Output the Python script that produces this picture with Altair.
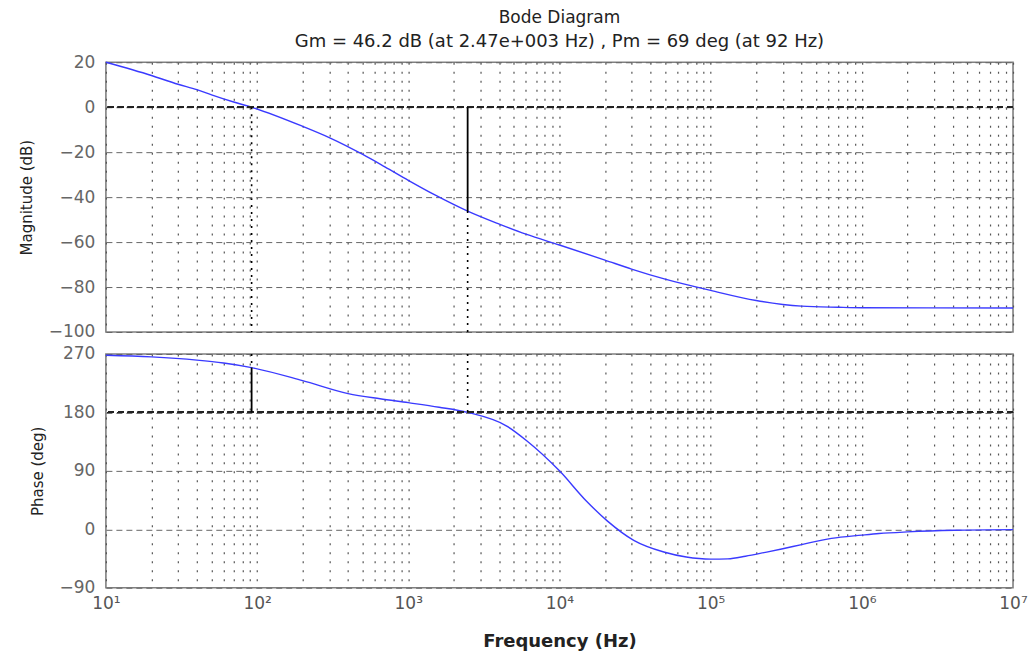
import altair as alt
import pandas as pd

# Open-loop magnitude response (Hz, dB)
mag_freq = [10, 20, 30, 40, 50, 70, 92, 200, 300, 500, 700, 1000, 1500, 2470,
            4000, 6000, 10000, 20000, 30000, 50000, 100000, 200000, 400000, 700000, 1e6, 1e7]
mag_db = [20, 14.1, 10.2, 7.8, 5.5, 2.3, 0, -8.5, -13.5, -21, -26.5, -32.5, -39, -46.2,
          -52, -56.5, -61.3, -68, -72, -76.5, -81.5, -86, -88.5, -89, -89.2, -89.3]

# Open-loop phase response (Hz, deg)
phase_freq = [10, 20, 40, 60, 92, 200, 400, 650, 1000, 1600, 2470, 4480, 6100, 10000,
              15000, 20700, 31000, 49000, 69000, 100000, 130000, 170000, 230000, 300000,
              400000, 630000, 1e6, 1.3e6, 2e6, 4.1e6, 1e7]
phase_deg = [268, 265.5, 260.5, 256, 249, 229, 209, 201, 195, 188, 180, 159, 136, 90,
             44, 13, -17, -35, -42.7, -46, -45.5, -41.5, -35.5, -30,
             -23.5, -14, -9, -6.5, -4, -1.5, -0.5]

# Stability margins
gm_freq, gm_db = 2470, -46.2
pm_freq, pm_phase = 92, 249

mag_ticks = [-100, -80, -60, -40, -20, 0, 20]
phase_ticks = [-90, 0, 90, 180, 270]
grid_freqs = [k * 10 ** d for d in range(1, 7) for k in range(1, 10)] + [10 ** 7]

FONT = "DejaVu Sans"
LINE = "#3a3aff"
W = 908

mag_df = pd.DataFrame({"freq": mag_freq, "val": mag_db})
phase_df = pd.DataFrame({"freq": phase_freq, "val": phase_deg})

x_scale = alt.Scale(type="log", domain=[10, 1e7], nice=False)

sup_expr = ("abs(datum.value - pow(10, round(log(datum.value)/LN10))) < 1e-6*datum.value"
            " ? '10' + ['⁰','¹','²','³','⁴','⁵','⁶','⁷'][round(log(datum.value)/LN10)] : ''")


def x_axis(show_labels):
    return alt.Axis(values=grid_freqs, labels=show_labels, labelExpr=sup_expr,
                    labelOverlap=False, labelFont=FONT, labelFontSize=17,
                    labelColor="#555", labelPadding=8, labelFlush=False,
                    ticks=False, domain=False, grid=True, gridDash=[2, 7],
                    gridColor="#555", gridWidth=1.2,
                    title="Frequency  (Hz)" if show_labels else None,
                    titleFont=FONT, titleFontSize=18, titleFontWeight="bold",
                    titleColor="#222", titlePadding=21)


def y_axis(title, ticks):
    return alt.Axis(values=ticks, title=title, titleFont=FONT, titleFontSize=15,
                    titleFontWeight="normal", titleColor="#222", titlePadding=14,
                    labelFont=FONT, labelFontSize=17, labelColor="#666",
                    labelPadding=11, ticks=False, domain=False, grid=True,
                    gridDash=[6, 4], gridColor="#666", gridWidth=1)


def rules(df, **kw):
    return alt.Chart(df).mark_rule(color="black", **kw).encode(
        x="freq:Q", y="val:Q", y2="val2:Q")


# Magnitude panel
mag_y = alt.Scale(domain=[-100, 20], nice=False)
mag_line = alt.Chart(mag_df).mark_line(color=LINE, strokeWidth=1.4, interpolate="monotone").encode(
    x=alt.X("freq:Q", scale=x_scale, axis=x_axis(False)),
    y=alt.Y("val:Q", scale=mag_y, axis=y_axis("Magnitude (dB)", mag_ticks)),
)
mag_zero = alt.Chart(mag_df).mark_rule(color="#222", strokeDash=[6, 4], strokeWidth=1.2).encode(
    y=alt.datum(0))
mag_solid = rules(pd.DataFrame({"freq": [gm_freq], "val": [0], "val2": [gm_db]}), strokeWidth=1.8)
mag_dots = rules(pd.DataFrame({"freq": [gm_freq, pm_freq], "val": [gm_db, 0], "val2": [-100, -100]}),
                 strokeDash=[2, 5], strokeWidth=1.6)

top = alt.layer(mag_line, mag_zero, mag_dots, mag_solid).properties(
    width=W, height=270,
    title=alt.TitleParams(
        text="Bode Diagram",
        subtitle="Gm = 46.2 dB (at 2.47e+003 Hz) ,  Pm = 69 deg (at 92 Hz)",
        anchor="middle", font=FONT, fontSize=17, fontWeight="normal", color="#222",
        subtitleFont=FONT, subtitleFontSize=18, subtitleColor="#222",
        subtitlePadding=6, offset=1),
)

# Phase panel
ph_y = alt.Scale(domain=[-90, 270], nice=False)
ph_line = alt.Chart(phase_df).mark_line(color=LINE, strokeWidth=1.4, interpolate="monotone").encode(
    x=alt.X("freq:Q", scale=x_scale, axis=x_axis(True)),
    y=alt.Y("val:Q", scale=ph_y, axis=y_axis("Phase (deg)", phase_ticks)),
)
ph_180 = alt.Chart(phase_df).mark_rule(color="#222", strokeDash=[6, 4], strokeWidth=1.2).encode(
    y=alt.datum(180))
ph_solid = rules(pd.DataFrame({"freq": [pm_freq], "val": [180], "val2": [pm_phase]}), strokeWidth=1.8)
ph_dots = rules(pd.DataFrame({"freq": [gm_freq, pm_freq], "val": [270, 270], "val2": [180, pm_phase]}),
                strokeDash=[2, 5], strokeWidth=1.6)

bottom = alt.layer(ph_line, ph_180, ph_dots, ph_solid).properties(width=W, height=234)

chart = alt.vconcat(top, bottom, spacing=3).properties(
    padding={"left": 18, "top": 8, "right": 0, "bottom": 2},
    background="white",
).configure_view(stroke="#808080", strokeWidth=1.6)

chart.save("out.html", embed_options={"renderer": "svg", "actions": False})
